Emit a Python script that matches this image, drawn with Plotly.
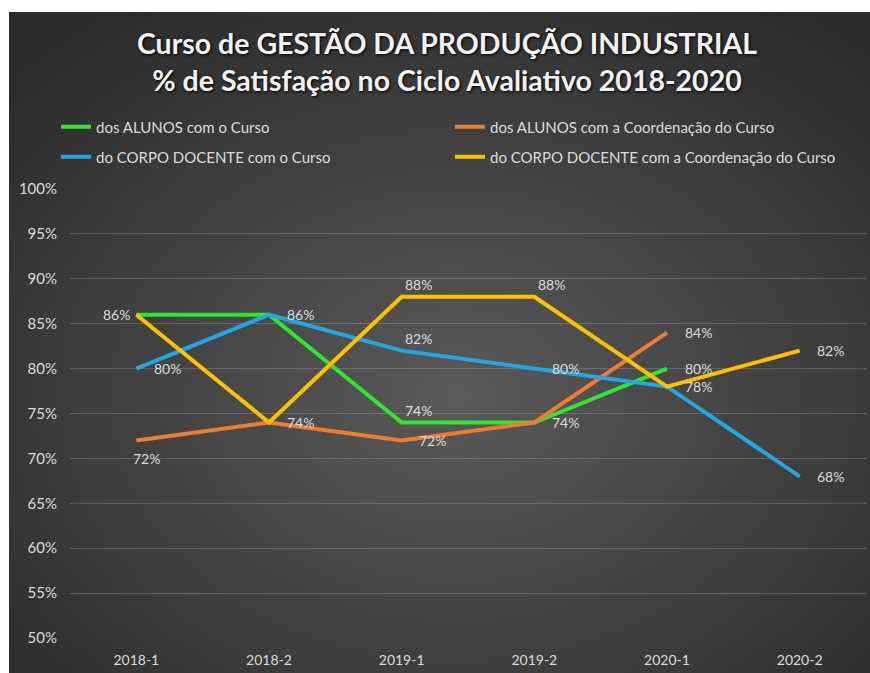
import base64
import plotly.graph_objects as go

# Data
periodos = ['2018-1', '2018-2', '2019-1', '2019-2', '2020-1', '2020-2']

nomes = [
    'dos ALUNOS com o Curso',
    'dos ALUNOS com a Coordenação do Curso',
    'do CORPO DOCENTE com o Curso',
    'do CORPO DOCENTE com a Coordenação do Curso',
]
alunos_curso = [86, 86, 74, 74, 80, None]
alunos_coord = [72, 74, 72, 74, 84, None]
docentes_curso = [80, 86, 82, 80, 78, 68]
docentes_coord = [86, 74, 88, 88, 78, 82]

cores = ['#2ee82e', '#ed7d31', '#22a7e2', '#ffc000']

# which data labels are visible and where they sit (r=right, l=left, t=top, b=below)
rotulos = [
    ['', '', 't', '', 'r', ''],
    ['b', 'r', 'r', 'r', 'r', ''],
    ['r', 'r', 't', 'r', 'r', 'r'],
    ['l', '', 't', 't', '', 'r'],
]
deslocamento = {'r': (31, 0), 'l': (-20, 0), 't': (17, 12), 'b': (10, -18)}

series = [alunos_curso, alunos_coord, docentes_curso, docentes_coord]

FONTE = 'Lato'
TEXTO = '#dcdcdc'

W, H = 870, 673
ML, MR, MT, MB = 70, 4, 189, 35
pw, ph = W - ML - MR, H - MT - MB

fig = go.Figure()

for i, (nome, valores, cor) in enumerate(zip(nomes, series, cores)):
    fig.add_trace(go.Scatter(
        x=periodos,
        y=valores,
        name=nome,
        mode='lines',
        line=dict(color=cor, width=4),
        legend='legend' if i < 2 else 'legend2',
        hovertemplate='%{x}: %{y}%<extra></extra>',
    ))

# data labels
for valores, pos in zip(series, rotulos):
    for x, v, p in zip(periodos, valores, pos):
        if not p or v is None:
            continue
        dx, dy = deslocamento[p]
        fig.add_annotation(
            x=x, y=v, text=f'{v}%', showarrow=False,
            xshift=dx, yshift=dy,
            font=dict(family=FONTE, size=14, color=TEXTO),
        )

# dark radial background (like the Excel chart style)
svg = (
    '<svg xmlns="http://www.w3.org/2000/svg" width="100" height="100" '
    'preserveAspectRatio="none" viewBox="0 0 100 100">'
    '<defs><radialGradient id="g" cx="52%" cy="58%" r="70%">'
    '<stop offset="0%" stop-color="#5a5a5a"/>'
    '<stop offset="100%" stop-color="#2b2b2b"/>'
    '</radialGradient></defs>'
    '<rect width="100" height="100" fill="url(#g)"/></svg>'
)
fundo = 'data:image/svg+xml;base64,' + base64.b64encode(svg.encode()).decode()

fig.add_layout_image(
    source=fundo, xref='paper', yref='paper',
    x=(9 - ML) / pw, y=(H - MB - 12) / ph,
    sizex=(W - 9) / pw, sizey=(H - 12) / ph,
    xanchor='left', yanchor='top', sizing='stretch', layer='below',
)

legenda = dict(
    orientation='h',
    x=(56 - ML) / pw, xanchor='left',
    yanchor='middle',
    bgcolor='rgba(0,0,0,0)',
    font=dict(family=FONTE, size=15, color=TEXTO),
    entrywidth=349, entrywidthmode='pixels',
    itemclick=False,
)

fig.update_layout(
    width=W, height=H,
    margin=dict(l=ML, r=MR, t=MT, b=MB),
    paper_bgcolor='white',
    plot_bgcolor='rgba(0,0,0,0)',
    title=dict(
        text='Curso de GESTÃO DA PRODUÇÃO INDUSTRIAL<br>% de Satisfação no Ciclo Avaliativo 2018-2020',
        x=447 / W, xanchor='center', xref='container',
        y=1 - 54 / H, yanchor='middle', yref='container',
        font=dict(family=FONTE, size=28.5, color='#f2f2f2', weight='bold',
                  shadow='1px 1px 3px #000'),
    ),
    legend=dict(legenda, y=(H - MB - 127) / ph),
    legend2=dict(legenda, y=(H - MB - 157) / ph),
    showlegend=True,
)

fig.update_xaxes(
    type='category', range=[-0.5, 5.5],
    showgrid=False, zeroline=False, showline=False,
    tickfont=dict(family=FONTE, size=14, color=TEXTO),
    ticklabelstandoff=12,
)
fig.update_yaxes(
    range=[50, 100], dtick=5, ticksuffix='%',
    showgrid=True, gridcolor='rgba(255,255,255,0.18)', gridwidth=1,
    zeroline=False, showline=False,
    tickfont=dict(family=FONTE, size=15, color=TEXTO),
    ticklabelstandoff=12,
)

# drop the default page margin so the figure sits at the window corner
fig.write_html('out.html', config={'displayModeBar': False},
               post_script="document.body.style.margin='0';")
